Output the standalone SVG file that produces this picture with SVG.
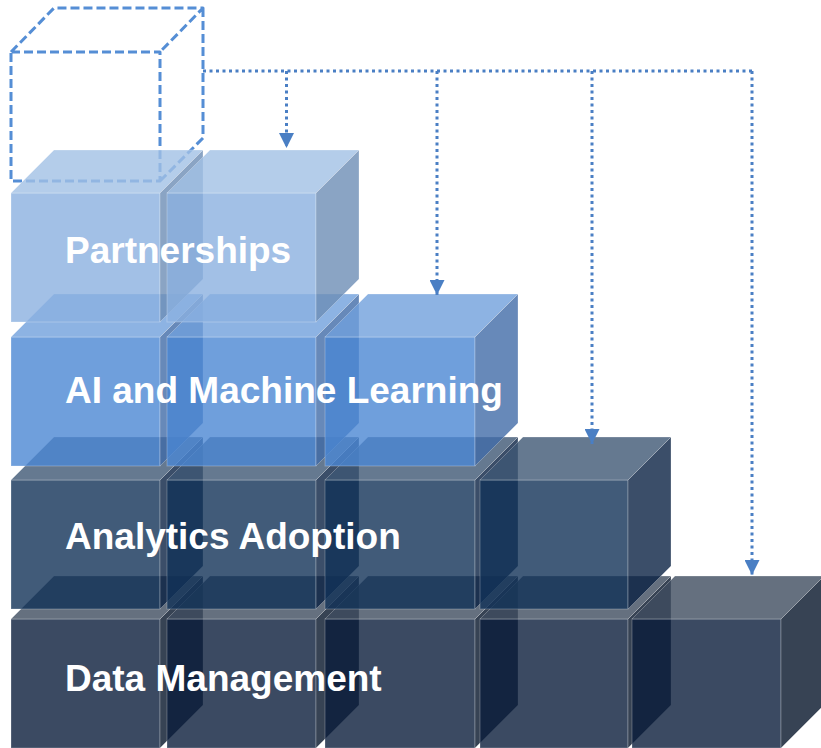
<svg xmlns="http://www.w3.org/2000/svg" width="821" height="748" viewBox="0 0 821 748">
<style>
  .face { fill-opacity: 0.8; stroke: #ffffff; stroke-opacity: 0.25; stroke-width: 1; }
  .p-f { fill: #8bb0e0; } .p-t { fill: #a1c0e5; } .p-s { fill: #6d8db5; }
  .a-f { fill: #4b87d3; } .a-t { fill: #70a0dc; } .a-s { fill: #416ca8; }
  .n-f { fill: #123257; } .n-t { fill: #3e5774; } .n-s { fill: #0a2243; }
  .d-f { fill: #0a1d3b; } .d-t { fill: #3e4c5f; } .d-s { fill: #051429; }
  .label { font-family: "Liberation Sans", Arial, sans-serif; font-weight: bold; font-size: 37px; fill: #ffffff; }
  .ghost { fill: none; stroke: #558ed5; stroke-width: 3; stroke-dasharray: 9 4; stroke-linejoin: round; stroke-linecap: butt; }
  .conn { fill: none; stroke: #4a7fc4; stroke-width: 3; stroke-dasharray: 3 3.5; }
</style>
<defs>
  <marker id="arrow" viewBox="0 0 15 15" refX="15" refY="7.5" markerWidth="15" markerHeight="15" markerUnits="userSpaceOnUse" orient="auto">
    <path d="M0,0 L15,7.5 L0,15 z" fill="#4a7fc4"/>
  </marker>
</defs>
<rect width="821" height="748" fill="#ffffff"/>

<g id="placeholder-cube">
  <path class="ghost" d="M11,52 H160 V181 H11 Z M11,52 L54,8 H203 L160,52 M203,8 V138 L160,181"/>
</g>

<g id="data-management">
  <rect class="face d-f" x="11" y="619" width="149" height="129"/>
  <polygon class="face d-t" points="11,619 160,619 203,576 54,576"/>
  <polygon class="face d-s" points="160,619 203,576 203,705 160,748"/>
  <rect class="face d-f" x="167" y="619" width="149" height="129"/>
  <polygon class="face d-t" points="167,619 316,619 359,576 210,576"/>
  <polygon class="face d-s" points="316,619 359,576 359,705 316,748"/>
  <rect class="face d-f" x="325" y="619" width="150" height="129"/>
  <polygon class="face d-t" points="325,619 475,619 518,576 368,576"/>
  <polygon class="face d-s" points="475,619 518,576 518,705 475,748"/>
  <rect class="face d-f" x="480" y="619" width="148" height="129"/>
  <polygon class="face d-t" points="480,619 628,619 671,576 523,576"/>
  <polygon class="face d-s" points="628,619 671,576 671,705 628,748"/>
  <rect class="face d-f" x="632" y="619" width="149" height="129"/>
  <polygon class="face d-t" points="632,619 781,619 824,576 675,576"/>
  <polygon class="face d-s" points="781,619 824,576 824,705 781,748"/>
  <text class="label" x="65" y="691">Data Management</text>
</g>

<g id="analytics-adoption">
  <rect class="face n-f" x="11" y="480" width="149" height="129"/>
  <polygon class="face n-t" points="11,480 160,480 203,437 54,437"/>
  <polygon class="face n-s" points="160,480 203,437 203,566 160,609"/>
  <rect class="face n-f" x="167" y="480" width="149" height="129"/>
  <polygon class="face n-t" points="167,480 316,480 359,437 210,437"/>
  <polygon class="face n-s" points="316,480 359,437 359,566 316,609"/>
  <rect class="face n-f" x="325" y="480" width="150" height="129"/>
  <polygon class="face n-t" points="325,480 475,480 518,437 368,437"/>
  <polygon class="face n-s" points="475,480 518,437 518,566 475,609"/>
  <rect class="face n-f" x="480" y="480" width="148" height="129"/>
  <polygon class="face n-t" points="480,480 628,480 671,437 523,437"/>
  <polygon class="face n-s" points="628,480 671,437 671,566 628,609"/>
  <text class="label" x="65" y="549">Analytics Adoption</text>
</g>

<g id="ai-machine-learning">
  <rect class="face a-f" x="11" y="337" width="149" height="129"/>
  <polygon class="face a-t" points="11,337 160,337 203,294 54,294"/>
  <polygon class="face a-s" points="160,337 203,294 203,423 160,466"/>
  <rect class="face a-f" x="167" y="337" width="149" height="129"/>
  <polygon class="face a-t" points="167,337 316,337 359,294 210,294"/>
  <polygon class="face a-s" points="316,337 359,294 359,423 316,466"/>
  <rect class="face a-f" x="325" y="337" width="150" height="129"/>
  <polygon class="face a-t" points="325,337 475,337 518,294 368,294"/>
  <polygon class="face a-s" points="475,337 518,294 518,423 475,466"/>
  <text class="label" x="65" y="403">AI and Machine Learning</text>
</g>

<g id="partnerships">
  <rect class="face p-f" x="11" y="193" width="149" height="129"/>
  <polygon class="face p-t" points="11,193 160,193 203,150 54,150"/>
  <polygon class="face p-s" points="160,193 203,150 203,279 160,322"/>
  <rect class="face p-f" x="167" y="193" width="149" height="129"/>
  <polygon class="face p-t" points="167,193 316,193 359,150 210,150"/>
  <polygon class="face p-s" points="316,193 359,150 359,279 316,322"/>
  <text class="label" x="65" y="263">Partnerships</text>
</g>

<g id="connectors">
  <path class="conn" d="M203,71 H752"/>
  <path class="conn" d="M286.5,71 V148" marker-end="url(#arrow)"/>
  <path class="conn" d="M437,71 V295" marker-end="url(#arrow)"/>
  <path class="conn" d="M592,71 V444" marker-end="url(#arrow)"/>
  <path class="conn" d="M752,71 V575" marker-end="url(#arrow)"/>
</g>
</svg>
